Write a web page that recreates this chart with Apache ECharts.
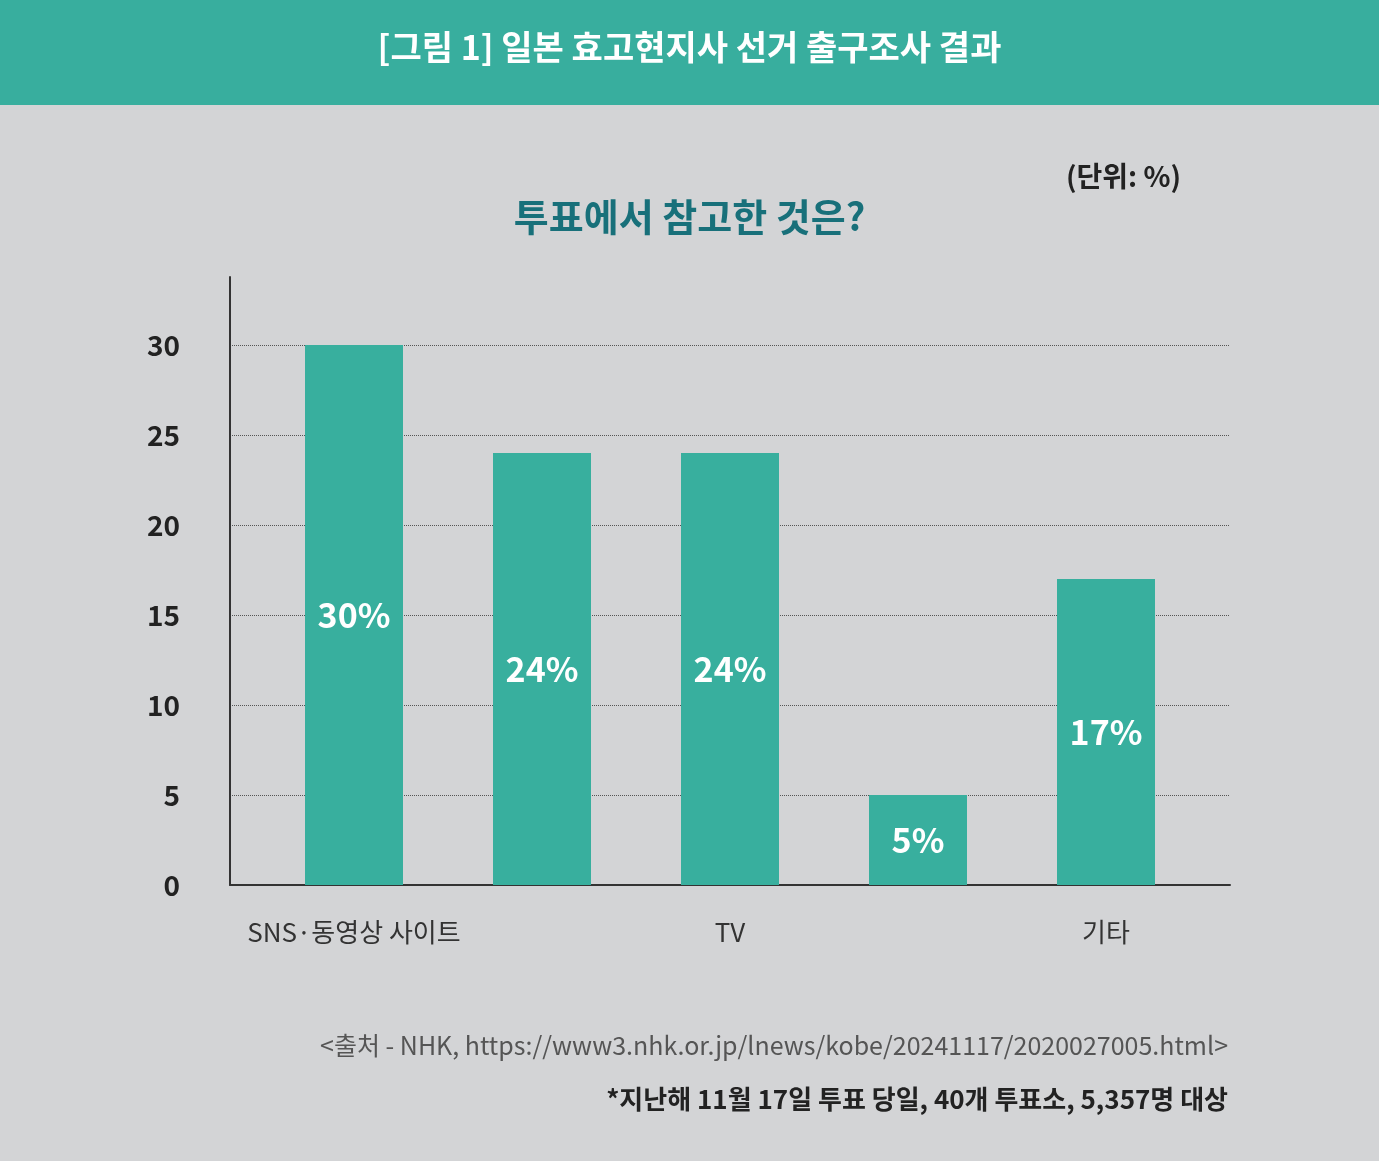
<html>
<head>
<meta charset="UTF-8">
<script src="https://cdn.jsdelivr.net/npm/echarts@6/dist/echarts.min.js"></script>
<style>
body { margin: 0; background: #d3d4d6; }
#main { width: 1379px; height: 1161px; }
</style>
</head>
<body>
<div id="main"></div>
<script>
var categories = ['SNS·동영상 사이트', '신문', 'TV', '지인·가족 추천', '기타'];
var values = [30, 24, 24, 5, 17];
var labels = ['30%', '24%', '24%', '5%', '17%'];
var font = '"Noto Sans CJK KR", "Noto Sans", sans-serif';

var myChart = echarts.init(document.getElementById('main'));
var option = {
	backgroundColor: '#d3d4d6',
	textStyle: { fontFamily: font },
	graphic: [
		{ type: 'rect', left: 0, top: 0, shape: { width: 1379, height: 105 }, style: { fill: '#38ae9e' } },
		{ type: 'text', left: 'center', top: 30, style: { text: '[그림 1] 일본 효고현지사 선거 출구조사 결과', fill: '#fff', font: 'bold 34px ' + font } },
		{ type: 'text', left: 'center', top: 198, style: { text: '투표에서 참고한 것은?', fill: '#18707a', font: 'bold 38px ' + font } },
		{ type: 'text', left: 1066, top: 162, style: { text: '(단위: %)', fill: '#222', font: 'bold 28px ' + font } },
		{ type: 'text', right: 151, top: 1033, style: { text: '<출처 - NHK, https://www3.nhk.or.jp/lnews/kobe/20241117/2020027005.html>', fill: '#555', font: '25px ' + font } },
		{ type: 'text', right: 151, top: 1086, style: { text: '*지난해 11월 17일 투표 당일, 40개 투표소, 5,357명 대상', fill: '#222', font: 'bold 26px ' + font } }
	],
	grid: [
		{ left: 230, width: 1000, top: 277, bottom: 276 },
		{ left: 230, width: 1000, top: 345, bottom: 276 },
		{ left: 260, width: 940, top: 345, bottom: 276 }
	],
	xAxis: [
		{ gridIndex: 0, type: 'category', data: [''], axisLine: { show: false }, axisTick: { show: false }, axisLabel: { show: false } },
		{ gridIndex: 1, type: 'category', data: [''], axisLine: { lineStyle: { color: '#333', width: 2 } }, axisTick: { show: false }, axisLabel: { show: false } },
		{ gridIndex: 2, type: 'category', data: categories, axisLine: { show: false }, axisTick: { show: false },
			axisLabel: { margin: 34, fontSize: 26, color: '#333' } }
	],
	yAxis: [
		{ gridIndex: 0, type: 'value', min: 0, max: 34, axisLine: { show: true, lineStyle: { color: '#333', width: 2 } },
			axisTick: { show: false }, axisLabel: { show: false }, splitLine: { show: false } },
		{ gridIndex: 1, type: 'value', min: 0, max: 30, interval: 5, axisLine: { show: false }, axisTick: { show: false },
			axisLabel: { margin: 50, fontSize: 28, fontWeight: 'bold', color: '#222' },
			splitLine: { lineStyle: { color: '#555', type: 'dotted', width: 1 } } },
		{ gridIndex: 2, type: 'value', min: 0, max: 30, show: false }
	],
	series: [{
		type: 'bar',
		xAxisIndex: 2,
		yAxisIndex: 2,
		data: values,
		barWidth: 98,
		itemStyle: { color: '#38af9e' },
		label: {
			show: true,
			position: 'inside',
			color: '#fff',
			fontSize: 34,
			fontWeight: 'bold',
			formatter: function (p) { return labels[p.dataIndex]; }
		}
	}]
};
myChart.setOption(option);
</script>
</body>
</html>
